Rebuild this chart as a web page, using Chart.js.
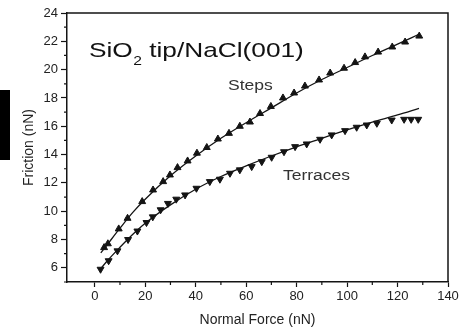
<!DOCTYPE html>
<html><head><meta charset="utf-8">
<script src="https://cdn.jsdelivr.net/npm/chart.js@4/dist/chart.umd.min.js"></script>
<style>html,body{margin:0;padding:0;background:#fff;overflow:hidden}canvas{display:block}</style>
</head><body>
<canvas id="c" width="466" height="329"></canvas>
<script>
// ---- data ----
const stepsX = [3.7, 5.2, 9.5, 13.0, 18.8, 23.1, 27.1, 29.8, 32.8, 36.8, 40.5, 44.4, 48.8, 53.2, 57.5, 61.5, 65.5, 69.8, 74.6, 79.0, 83.3, 88.9, 93.3, 98.8, 103.2, 107.1, 112.3, 117.9, 123.0, 128.6];
const stepsY = [7.43, 7.7, 8.75, 9.5, 10.68, 11.5, 12.09, 12.56, 13.08, 13.55, 14.1, 14.5, 15.1, 15.5, 16.0, 16.3, 16.9, 17.4, 18.0, 18.35, 18.84, 19.27, 19.76, 20.1, 20.5, 20.9, 21.24, 21.6, 21.95, 22.37];
const terracesX = [2.3, 5.5, 9.0, 13.2, 16.9, 20.5, 23.0, 26.1, 29.0, 32.3, 35.8, 40.3, 45.6, 49.6, 53.6, 57.5, 62.2, 66.2, 70.1, 75.0, 79.4, 84.0, 89.3, 93.9, 99.2, 103.8, 107.8, 111.8, 117.7, 122.6, 125.4, 128.2];
const terracesY = [5.9, 6.5, 7.2, 8.0, 8.6, 9.2, 9.6, 10.1, 10.55, 10.85, 11.15, 11.62, 12.09, 12.26, 12.68, 12.92, 13.15, 13.5, 13.81, 14.2, 14.56, 14.75, 15.08, 15.39, 15.69, 15.93, 16.09, 16.21, 16.44, 16.49, 16.49, 16.49];
const stepsFitX = [2.4, 5, 10, 15, 20, 30, 40, 50, 60, 70, 80, 90, 100, 110, 120, 128.5];
const stepsFitY = [7.05, 7.65, 8.8, 9.9, 10.85, 12.5, 13.9, 15.15, 16.25, 17.3, 18.35, 19.3, 20.15, 21.0, 21.8, 22.5];
const terracesFitX = [2, 5, 10, 15, 20, 30, 40, 50, 60, 70, 80, 90, 100, 110, 120, 128.5];
const terracesFitY = [5.86, 6.5, 7.45, 8.35, 9.15, 10.45, 11.55, 12.45, 13.2, 13.9, 14.55, 15.15, 15.75, 16.3, 16.8, 17.27];
const xTicks = [0, 20, 40, 60, 80, 100, 120, 140];
const xMinorTicks = [10, 30, 50, 70, 90, 110, 130];
const yTicks = [6, 8, 10, 12, 14, 16, 18, 20, 22, 24];
const yMinorTicks = [5, 7, 9, 11, 13, 15, 17, 19, 21, 23];
const xTitle = 'Normal Force (nN)';
const yTitle = 'Friction (nN)';
const seriesLabels = ['Steps', 'Terraces'];

const pts = (xs, ys) => xs.map((x, i) => ({x, y: ys[i]}));
const INK = '#141414';
const FONT = '"Liberation Sans", Arial, sans-serif';

const decor = {
  id: 'decor',
  afterDraw(chart) {
    const {ctx, chartArea: a, scales: {x, y}} = chart;
    ctx.save();
    // frame top and right
    ctx.strokeStyle = INK; ctx.lineWidth = 1.5;
    ctx.beginPath();
    ctx.moveTo(a.left, a.top); ctx.lineTo(a.right, a.top); ctx.lineTo(a.right, a.bottom);
    ctx.stroke();
    // minor ticks
    ctx.lineWidth = 1.2;
    ctx.beginPath();
    yMinorTicks.forEach(v => { const p = y.getPixelForValue(v); ctx.moveTo(a.left - 3, p); ctx.lineTo(a.left, p); });
    xMinorTicks.forEach(v => { const p = x.getPixelForValue(v); ctx.moveTo(p, a.bottom); ctx.lineTo(p, a.bottom + 3); });
    ctx.stroke();
    // text annotations (horizontally stretched like the reference)
    const sx = 1.25;
    const put = (txt, px, py, font, color) => {
      ctx.save(); ctx.font = font; ctx.fillStyle = color; ctx.textBaseline = 'alphabetic'; ctx.textAlign = 'left';
      ctx.translate(px, py); ctx.scale(sx, 1); ctx.fillText(txt, 0, 0);
      const w = ctx.measureText(txt).width * sx; ctx.restore(); return w;
    };
    let tx = x.getPixelForValue(-2.3), ty = y.getPixelForValue(20.9);
    tx += put('SiO', tx, ty, '21px ' + FONT, '#111');
    tx += put('2', tx + 0.5, ty + 8, '12.5px ' + FONT, '#111') + 0.5;
    put(' tip/NaCl(001)', tx, ty, '21px ' + FONT, '#111');
    put(seriesLabels[0], x.getPixelForValue(52.8), y.getPixelForValue(18.56), '14px ' + FONT, '#333');
    put(seriesLabels[1], x.getPixelForValue(74.6), y.getPixelForValue(12.2), '14px ' + FONT, '#333');
    // scan artifact bar at left edge
    ctx.fillStyle = '#000';
    ctx.fillRect(0, 90, 10, 70);
    ctx.restore();
  }
};

new Chart(document.getElementById('c'), {
  type: 'scatter',
  data: {
    datasets: [
      {label: 'Steps fit', data: pts(stepsFitX, stepsFitY), showLine: true, borderColor: INK, borderWidth: 1.3, pointRadius: 0, cubicInterpolationMode: 'monotone'},
      {label: 'Terraces fit', data: pts(terracesFitX, terracesFitY), showLine: true, borderColor: INK, borderWidth: 1.3, pointRadius: 0, cubicInterpolationMode: 'monotone'},
      {label: seriesLabels[0], data: pts(stepsX, stepsY), pointStyle: 'triangle', pointRadius: 4, backgroundColor: INK, borderColor: INK, borderWidth: 1},
      {label: seriesLabels[1], data: pts(terracesX, terracesY), pointStyle: 'triangle', rotation: 180, pointRadius: 4, backgroundColor: INK, borderColor: INK, borderWidth: 1}
    ]
  },
  options: {
    responsive: false,
    animation: false,
    devicePixelRatio: 1,
    layout: {padding: {top: 13, right: 18, left: 0, bottom: 0}},
    plugins: {legend: {display: false}, tooltip: {enabled: false}},
    scales: {
      x: {
        type: 'linear', min: -11, max: 140,
        afterBuildTicks: s => { s.ticks = xTicks.map(v => ({value: v})); },
        afterFit: s => { s.height = 47; },
        grid: {drawOnChartArea: false, drawTicks: true, tickLength: 5, tickColor: INK, tickWidth: 1.2},
        border: {display: true, color: INK, width: 1.5},
        ticks: {padding: 2, color: '#222', font: {family: FONT, size: 13}, maxRotation: 0},
        title: {display: true, text: xTitle, color: '#222', padding: {top: 0, bottom: 0}, font: {family: FONT, size: 14}}
      },
      y: {
        type: 'linear', min: 5, max: 24,
        afterBuildTicks: s => { s.ticks = yTicks.map(v => ({value: v})); },
        afterFit: s => { s.width = 67; },
        grid: {drawOnChartArea: false, drawTicks: true, tickLength: 6, tickColor: INK, tickWidth: 1.2},
        border: {display: true, color: INK, width: 1.5},
        ticks: {padding: 3, color: '#222', font: {family: FONT, size: 13}},
        title: {display: true, text: yTitle, color: '#222', padding: {top: 21, bottom: 0}, font: {family: FONT, size: 14}}
      }
    }
  },
  plugins: [decor]
});
</script>
</body></html>
